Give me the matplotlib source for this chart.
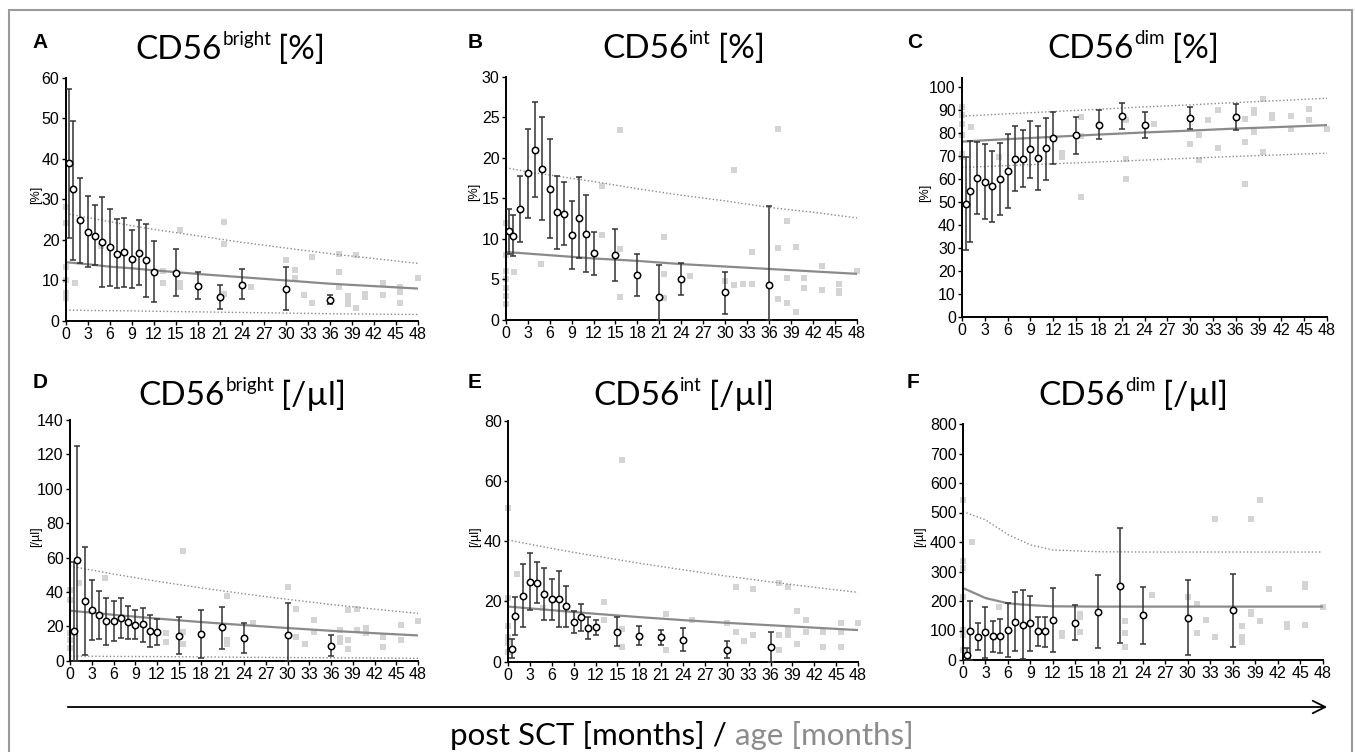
import numpy as np
import matplotlib
matplotlib.use("Agg")
import matplotlib.pyplot as plt
from matplotlib.patches import Rectangle, FancyArrowPatch

plt.rcParams['font.family'] = ['Liberation Sans Narrow', 'Liberation Sans', 'DejaVu Sans']

# months post SCT for the patient means
T_MEAN = [0.5, 1, 2, 3, 4, 5, 6, 7, 8, 9, 10, 11, 12, 15, 18, 21, 24, 30, 36]
# ages for the reference curves (healthy children)
CURVE_T = [0, 3, 6, 9, 12, 18, 24, 30, 36, 42, 48]
XTICKS = list(range(0, 49, 3))

# A  CD56bright [%]
A_MEAN = [38.9, 32.5, 24.9, 22.0, 21.0, 19.4, 18.2, 16.6, 16.9, 15.4, 16.8, 15.0, 12.2, 11.9, 8.7, 6.0, 9.0, 8.0, 5.2]
A_HI = [57.1, 49.4, 35.3, 30.8, 28.5, 30.5, 27.6, 25.1, 25.5, 22.5, 24.8, 23.8, 19.8, 17.8, 12.0, 9.0, 12.8, 13.2, 6.3]
A_LO = [20.4, 15.0, 14.4, 13.2, 13.8, 8.5, 8.7, 8.1, 8.5, 8.1, 9.0, 6.0, 4.7, 6.2, 5.5, 3.0, 5.4, 2.7, 4.2]
A_MED = [14.5, 14.0, 13.4, 13.0, 12.5, 11.6, 10.8, 10.0, 9.2, 8.6, 8.0]
A_UP = [26.5, 25.5, 24.5, 23.5, 22.6, 21.0, 19.4, 18.0, 16.6, 15.4, 14.2]
A_LOW = [2.7, 2.6, 2.55, 2.5, 2.4, 2.25, 2.1, 1.95, 1.8, 1.7, 1.6]
A_GX = [0, 0, 0, 0, 0, 0, 1.2, 4.8, 13.2, 13.2, 15.6, 15.6, 15.6, 21.6, 21.6, 21.6, 25.2, 30, 31.2, 31.2,
        32.4, 33.6, 33.6, 37.2, 37.2, 37.2, 38.4, 38.4, 38.4, 39.6, 39.6, 40.8, 40.8, 43.2, 43.2,
        45.6, 45.6, 45.6, 48]
A_GY = [28.2, 24.1, 13.4, 10.1, 6.8, 5.6, 9.3, 18.5, 12.4, 9.3, 22.4, 9.4, 8.3, 24.5, 18.9, 6.6, 8.5, 15.0, 12.7, 10.7,
        6.5, 15.9, 4.5, 16.5, 12.2, 8.5, 6.2, 5.4, 4.1, 16.2, 3.2, 6.7, 5.8, 9.3, 6.5,
        8.5, 7.1, 4.4, 10.7]

# B  CD56int [%]
B_MEAN = [11.0, 10.4, 13.7, 18.1, 21.0, 18.7, 16.2, 13.3, 13.1, 10.5, 12.6, 10.6, 8.3, 8.0, 5.6, 2.8, 5.0, 3.4, 4.3]
B_HI = [13.7, 13.0, 17.8, 23.6, 26.9, 25.1, 22.3, 17.8, 17.0, 14.7, 17.7, 15.4, 10.9, 11.2, 8.2, 6.8, 7.0, 5.9, 14.1]
B_LO = [8.1, 7.9, 9.6, 12.6, 15.2, 12.4, 10.1, 8.8, 9.2, 6.3, 7.7, 5.9, 5.6, 4.8, 3.0, 0.0, 3.1, 0.8, 0.0]
B_MED = [8.4, 8.2, 8.0, 7.8, 7.6, 7.3, 6.9, 6.6, 6.3, 6.0, 5.7]
B_UP = [18.8, 18.3, 17.9, 17.5, 17.1, 16.2, 15.4, 14.7, 13.9, 13.3, 12.6]
B_GX = [0, 0, 0, 0, 0, 0, 0, 1.2, 4.8, 13.2, 13.2, 15.6, 15.6, 15.6, 21.6, 21.6, 21.6, 25.2, 30, 31.2, 31.2,
        32.4, 33.6, 33.6, 37.2, 37.2, 37.2, 38.4, 38.4, 38.4, 39.6, 39.6, 40.8, 40.8, 43.2, 43.2,
        45.6, 45.6, 45.6, 48]
B_GY = [12.0, 8.0, 6.0, 5.0, 4.0, 3.0, 2.0, 5.9, 6.9, 16.5, 10.5, 23.5, 8.8, 2.8, 10.2, 5.7, 2.7, 5.4, 4.8, 18.5, 4.3,
        4.5, 8.4, 4.4, 23.6, 8.9, 2.6, 12.2, 5.2, 2.1, 9.0, 1.0, 5.2, 3.9, 6.7, 3.7,
        4.5, 3.6, 3.3, 6.0]

# C  CD56dim [%]
C_MEAN = [49.1, 54.6, 60.3, 58.8, 56.8, 60.0, 63.4, 68.8, 68.8, 72.8, 69.1, 73.3, 77.7, 79.0, 83.5, 87.4, 83.4, 86.7, 87.1]
C_HI = [69.7, 76.7, 76.0, 75.1, 72.0, 75.7, 79.5, 82.8, 81.4, 85.3, 83.1, 86.6, 89.3, 87.1, 90.0, 93.1, 88.9, 91.3, 92.6]
C_LO = [29.2, 32.7, 44.7, 42.5, 41.5, 44.2, 47.5, 54.6, 56.4, 60.5, 55.2, 59.7, 66.3, 71.0, 77.3, 81.9, 78.0, 81.9, 81.4]
C_MED = [76.2, 76.8, 77.3, 77.8, 78.3, 79.3, 80.2, 81.0, 81.9, 82.6, 83.4]
C_UP = [87.3, 87.8, 88.3, 88.8, 89.3, 90.3, 91.3, 92.2, 93.2, 94.1, 95.1]
C_LOW = [65.0, 65.4, 65.8, 66.2, 66.6, 67.4, 68.2, 69.0, 69.8, 70.5, 71.2]
C_GX = [0, 0, 0, 0, 0, 0, 1.2, 4.8, 13.2, 13.2, 15.6, 15.6, 15.6, 21.6, 21.6, 21.6, 25.2, 30, 31.2, 31.2,
        32.4, 33.6, 33.6, 37.2, 37.2, 37.2, 38.4, 38.4, 38.4, 39.6, 39.6, 40.8, 40.8, 43.2, 43.2,
        45.6, 45.6, 48]
C_GY = [91.3, 87.7, 84.0, 79.0, 71.0, 69.6, 82.5, 69.7, 71.4, 69.7, 86.8, 78.6, 52.3, 85.7, 68.8, 59.8, 84.0, 75.3, 79.0, 68.2,
        85.5, 89.9, 73.3, 86.0, 75.9, 57.8, 89.9, 88.7, 80.3, 94.7, 71.7, 87.7, 86.7, 87.3, 81.9,
        90.3, 85.8, 81.9]

# D  CD56bright [/ul]
D_MEAN = [17.3, 58.6, 34.9, 29.5, 26.8, 23.1, 23.3, 24.8, 22.3, 20.9, 21.1, 17.1, 16.5, 14.5, 15.3, 19.4, 13.4, 14.7, 8.5]
D_HI = [57.6, 124.9, 66.3, 46.7, 40.3, 36.6, 34.5, 36.5, 31.8, 29.5, 30.8, 26.6, 24.2, 25.2, 29.3, 31.4, 22.1, 33.4, 14.7]
D_LO = [0.0, 0.0, 3.3, 12.0, 12.8, 9.1, 11.6, 13.2, 12.8, 12.4, 10.9, 7.8, 8.9, 3.9, 1.4, 7.0, 4.7, 0.0, 2.5]
D_MED = [29.1, 27.9, 26.7, 25.6, 24.5, 22.5, 20.7, 19.0, 17.4, 16.0, 14.7]
D_UP = [55.0, 52.7, 50.4, 48.3, 46.2, 42.4, 38.9, 35.7, 32.7, 30.0, 27.5]
D_LOW = [2.7, 2.6, 2.5, 2.45, 2.4, 2.2, 2.0, 1.85, 1.7, 1.55, 1.4]
D_GX = [0, 0, 0, 0, 0, 1.2, 4.8, 13.2, 13.2, 15.6, 15.6, 15.6, 21.6, 21.6, 21.6, 21.6, 25.2, 30, 31.2, 31.2,
        32.4, 33.6, 33.6, 37.2, 37.2, 37.2, 38.4, 38.4, 38.4, 39.6, 39.6, 40.8, 40.8, 43.2, 43.2,
        45.6, 45.6, 48]
D_GY = [41.1, 35.3, 16.0, 12.0, 7.2, 45.0, 47.9, 15.9, 10.9, 64.0, 16.9, 9.9, 37.8, 12.0, 10.7, 9.5, 21.7, 42.9, 29.9, 14.0,
        9.9, 23.9, 16.9, 17.8, 13.0, 10.9, 29.3, 12.0, 6.8, 30.2, 17.8, 18.8, 15.9, 14.0, 8.0,
        20.9, 12.0, 23.1]

# E  CD56int [/ul]
E_MEAN = [4.3, 15.2, 21.9, 26.5, 26.2, 22.5, 20.7, 20.8, 18.4, 13.2, 14.9, 11.1, 11.4, 9.8, 8.6, 8.1, 7.3, 4.0, 4.8]
E_HI = [7.7, 21.6, 32.4, 36.0, 33.2, 31.1, 27.3, 30.2, 25.2, 16.9, 19.2, 14.8, 14.0, 14.7, 11.8, 10.4, 11.2, 7.0, 9.7]
E_LO = [1.1, 8.8, 11.4, 17.1, 19.4, 14.0, 14.0, 11.4, 11.4, 9.4, 10.3, 7.4, 9.0, 5.2, 5.4, 5.5, 3.7, 1.1, 0.0]
E_MED = [18.3, 17.7, 17.1, 16.5, 15.9, 14.8, 13.8, 12.9, 12.1, 11.3, 10.5]
E_UP = [40.4, 39.0, 37.6, 36.3, 35.1, 32.7, 30.5, 28.4, 26.5, 24.7, 23.0]
E_GX = [0, 0, 0, 0, 0, 0, 1.2, 4.8, 13.2, 13.2, 15.6, 15.6, 15.6, 21.6, 21.6, 25.2, 30, 31.2, 31.2,
        32.4, 33.6, 33.6, 37.2, 37.2, 37.2, 38.4, 38.4, 38.4, 39.6, 39.6, 40.8, 40.8, 43.2, 43.2,
        45.6, 45.6, 45.6, 48]
E_GY = [51.1, 21.0, 12.0, 8.3, 6.2, 3.3, 29.0, 17.9, 19.9, 13.8, 66.9, 11.0, 5.0, 15.8, 3.9, 13.9, 12.9, 24.9, 10.0,
        6.9, 24.0, 8.8, 26.0, 8.8, 3.9, 24.9, 11.0, 8.8, 16.9, 5.9, 13.8, 10.0, 10.0, 5.0,
        12.9, 10.0, 5.0, 12.9]

# F  CD56dim [/ul]
F_MEAN = [17, 98, 79, 94, 80, 80, 102, 130, 119, 124, 97, 97, 136, 127, 164, 252, 152, 144, 169]
F_HI = [42, 201, 124, 181, 132, 138, 192, 229, 236, 218, 145, 147, 244, 188, 287, 446, 248, 270, 292]
F_LO = [0, 0, 33, 8, 27, 24, 10, 29, 2, 32, 49, 45, 26, 67, 41, 59, 55, 17, 45]
F_MED = [244, 210, 192, 186, 182, 181, 181, 181, 181, 181, 181]
F_UP = [503, 475, 425, 390, 373, 367, 366, 366, 366, 366, 366]
F_GX = [0, 0, 0, 0, 0, 0, 0, 1.2, 4.8, 13.2, 13.2, 15.6, 15.6, 15.6, 21.6, 21.6, 21.6, 25.2, 30, 31.2, 31.2,
        32.4, 33.6, 33.6, 37.2, 37.2, 37.2, 38.4, 38.4, 38.4, 39.6, 39.6, 40.8, 43.2, 43.2,
        45.6, 45.6, 45.6, 48]
F_GY = [543, 334, 311, 215, 102, 85, 34, 399, 181, 90, 83, 155, 146, 95, 133, 93, 45, 221, 214, 189, 90,
        136, 478, 79, 115, 79, 61, 478, 164, 155, 541, 131, 239, 122, 111,
        256, 247, 117, 179]

W, H = 1355, 752
fig = plt.figure(figsize=(W / 100, H / 100), dpi=100)
rend = fig.canvas.get_renderer()

GRAY_PT = '#d4d4d4'
CURVE = '#8a8a8a'
TFONT = ['Lato', 'DejaVu Sans']


def title_text(x, y, base, sup, tail):
    # "CD56" + raised superscript + unit, laid out piece by piece in pixels
    t = fig.text(x / W, 1 - y / H, base, fontsize=24, family=TFONT, ha='left', va='baseline')
    x += t.get_window_extent(renderer=rend).width + 1
    t = fig.text(x / W, 1 - (y - 14) / H, sup, fontsize=13.5, family=TFONT, ha='left', va='baseline')
    x += t.get_window_extent(renderer=rend).width + 7
    fig.text(x / W, 1 - y / H, tail, fontsize=24, family=TFONT, ha='left', va='baseline')


def panel(box, letter, letter_xy, title, title_xy, ylab, ylab_xy, ymax, ystep,
          mean, hi, lo, med, up, low, gx, gy):
    l, t, r, b = box
    ax = fig.add_axes([l / W, 1 - b / H, (r - l) / W, (b - t) / H])
    ax.scatter(gx, gy, marker='s', s=13, color=GRAY_PT, linewidths=0, clip_on=False, zorder=1)
    ax.plot(CURVE_T, med, color=CURVE, lw=1.6, zorder=2)
    ax.plot(CURVE_T, up, color=CURVE, lw=1.0, ls=(0, (1, 1.6)), zorder=2)
    if low is not None:
        ax.plot(CURVE_T, low, color=CURVE, lw=1.0, ls=(0, (1, 1.6)), zorder=2)
    m = np.array(mean, float)
    err = [m - np.array(lo, float), np.array(hi, float) - m]
    ax.errorbar(T_MEAN, m, yerr=err, fmt='o', ms=4.6, mfc='white', mec='black', mew=1.1,
                ecolor='#333333', elinewidth=1.1, capsize=2.5, capthick=1.1, zorder=3, clip_on=False)
    ax.set_xlim(0, 48)
    ax.set_ylim(0, ymax)
    ax.set_xticks(XTICKS)
    ax.set_yticks(np.arange(0, ystep * int(ymax // ystep) + 1, ystep))
    for s in ['top', 'right']:
        ax.spines[s].set_visible(False)
    for s in ['left', 'bottom']:
        ax.spines[s].set_linewidth(1.4)
    ax.tick_params(direction='out', length=3, width=1, labelsize=11.5, pad=1.5)
    fig.text(letter_xy[0] / W, 1 - letter_xy[1] / H, letter, fontsize=15, fontweight='bold',
             family=['Liberation Sans', 'DejaVu Sans'], ha='left', va='baseline')
    title_text(title_xy[0], title_xy[1], *title)
    fig.text(ylab_xy[0] / W, 1 - ylab_xy[1] / H, ylab, fontsize=9, rotation=90,
             family=['Liberation Sans', 'DejaVu Sans'], ha='center', va='center')
    return ax


panel((65.7, 77.7, 418, 321), 'A', (32, 48), ('CD56', 'bright', '[%]'), (135, 59),
      '[%]', (36, 195), 60, 10, A_MEAN, A_HI, A_LO, A_MED, A_UP, A_LOW, A_GX, A_GY)
panel((505.7, 77, 857, 320), 'B', (468, 48), ('CD56', 'int', '[%]'), (602, 58),
      '[%]', (474, 192), 30, 5, B_MEAN, B_HI, B_LO, B_MED, B_UP, None, B_GX, B_GY)
panel((962, 77.7, 1327, 317), 'C', (907, 48), ('CD56', 'dim', '[%]'), (1047, 58),
      '[%]', (925, 193), 104, 10, C_MEAN, C_HI, C_LO, C_MED, C_UP, C_LOW, C_GX, C_GY)
panel((70, 420, 418, 660.7), 'D', (33, 388), ('CD56', 'bright', '[/µl]'), (138, 405),
      '[/µl]', (36, 537), 140, 20, D_MEAN, D_HI, D_LO, D_MED, D_UP, D_LOW, D_GX, D_GY)
panel((508, 420.7, 858, 661.7), 'E', (468, 388), ('CD56', 'int', '[/µl]'), (593, 405),
      '[/µl]', (475, 537), 80, 20, E_MEAN, E_HI, E_LO, E_MED, E_UP, None, E_GX, E_GY)
panel((963, 424, 1322.7, 660), 'F', (907, 388), ('CD56', 'dim', '[/µl]'), (1038, 405),
      '[/µl]', (920, 537), 800, 100, F_MEAN, F_HI, F_LO, F_MED, F_UP, None, F_GX, F_GY)

# frame round the whole figure
fig.add_artist(Rectangle((9 / W, -0.05), (1352 - 9) / W, (752 - 10) / H + 0.05,
                         transform=fig.transFigure, fill=False, ec='#9a9a9a', lw=1.5))

# time arrow and shared x label
fig.add_artist(FancyArrowPatch((65 / W, 1 - 707 / H), (1330 / W, 1 - 707 / H),
                               transform=fig.transFigure,
                               arrowstyle='->,head_length=0.9,head_width=0.45',
                               mutation_scale=10, lw=1.3, color='black'))
t1 = fig.text(0, 1 - 745 / H, 'post SCT [months] / ', fontsize=22.5,
              family=TFONT, color='black', ha='left', va='baseline')
t2 = fig.text(0, 1 - 745 / H, 'age [months]', fontsize=22.5,
              family=TFONT, color='#8c8c8c', ha='left', va='baseline')
w1 = t1.get_window_extent(renderer=rend).width
w2 = t2.get_window_extent(renderer=rend).width
x0 = 682 - (w1 + w2) / 2
t1.set_x(x0 / W)
t2.set_x((x0 + w1) / W)

fig.savefig('out.png', dpi=100)
